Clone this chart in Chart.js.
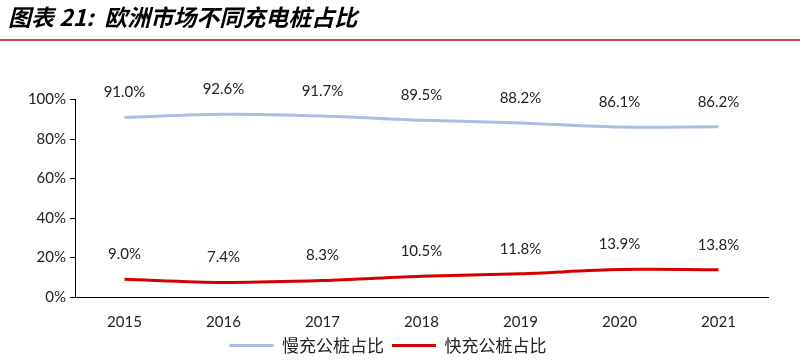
<!DOCTYPE html>
<html>
<head>
<meta charset="utf-8">
<script src="https://cdn.jsdelivr.net/npm/chart.js@4"></script>
<style>
  html, body { margin: 0; padding: 0; background: #fff; }
  #wrap { width: 800px; height: 364px; }
</style>
</head>
<body>
<div id="wrap"><canvas id="chargeChart"></canvas></div>
<script>
const years = ['2015', '2016', '2017', '2018', '2019', '2020', '2021'];
const slowShare = [91.0, 92.6, 91.7, 89.5, 88.2, 86.1, 86.2];
const fastShare = [9.0, 7.4, 8.3, 10.5, 11.8, 13.9, 13.8];
const seriesNames = ['慢充公桩占比', '快充公桩占比'];
const titleText = '图表 21:  欧洲市场不同充电桩占比';

const tickFont = { family: 'Lato, "Noto Sans CJK SC", sans-serif', size: 15 };

// red rule under the title
const titleRule = {
  id: 'titleRule',
  afterDraw(chart) {
    const c = chart.ctx;
    c.save();
    c.strokeStyle = '#C00000';
    c.lineWidth = 1.5;
    c.beginPath();
    c.moveTo(0, 40);
    c.lineTo(800, 40);
    c.stroke();
    c.restore();
  }
};

// value labels above each point
const valueLabels = {
  id: 'valueLabels',
  afterDatasetsDraw(chart) {
    const c = chart.ctx;
    c.save();
    c.font = '15px Lato, sans-serif';
    c.fillStyle = '#222';
    c.textAlign = 'center';
    c.textBaseline = 'middle';
    chart.data.datasets.forEach((ds, i) => {
      chart.getDatasetMeta(i).data.forEach((pt, j) => {
        c.fillText(ds.data[j].toFixed(1) + '%', pt.x, pt.y - 25);
      });
    });
    c.restore();
  }
};

const ctx = document.getElementById('chargeChart');
const chargeChart = new Chart(ctx, {
  type: 'line',
  data: {
    labels: years,
    datasets: [{
      label: seriesNames[0],
      data: slowShare,
      borderColor: '#A9BDE5',
      backgroundColor: '#A9BDE5',
      borderWidth: 3,
      pointRadius: 0,
      tension: 0.3,
    }, {
      label: seriesNames[1],
      data: fastShare,
      borderColor: '#D40000',
      backgroundColor: '#D40000',
      borderWidth: 3,
      pointRadius: 0,
      tension: 0.3,
    }],
  },
  options: {
    responsive: true,
    maintainAspectRatio: false,
    animation: false,
    layout: { padding: { left: 8, right: 32, top: 0, bottom: 0 } },
    plugins: {
      title: {
        display: true,
        text: titleText,
        align: 'start',
        color: '#000',
        font: { family: '"Noto Sans CJK SC", sans-serif', size: 23, weight: 'bold', style: 'italic' },
        padding: { top: 3, bottom: 69 },
      },
      legend: {
        position: 'bottom',
        labels: {
          usePointStyle: true,
          pointStyle: 'line',
          pointStyleWidth: 44,
          boxHeight: 3,
          padding: 8,
          color: '#222',
          font: { family: '"Noto Sans CJK SC", sans-serif', size: 17 },
        },
      },
      tooltip: { enabled: false },
    },
    scales: {
      x: {
        offset: true,
        grid: { display: false, offset: true },
        border: { display: true, color: '#000', width: 1 },
        ticks: { color: '#222', font: tickFont, padding: 8 },
        afterFit(scale) { scale.height = 32; },
      },
      y: {
        min: 0,
        max: 100,
        grid: { drawOnChartArea: false, drawTicks: true, tickLength: 5, color: '#000' },
        border: { display: true, color: '#000', width: 1 },
        ticks: {
          stepSize: 20,
          color: '#222',
          font: tickFont,
          padding: 4,
          callback: v => v + '%',
        },
        afterFit(scale) { scale.width = 67; },
      },
    },
  },
  plugins: [titleRule, valueLabels],
});
</script>
</body>
</html>
